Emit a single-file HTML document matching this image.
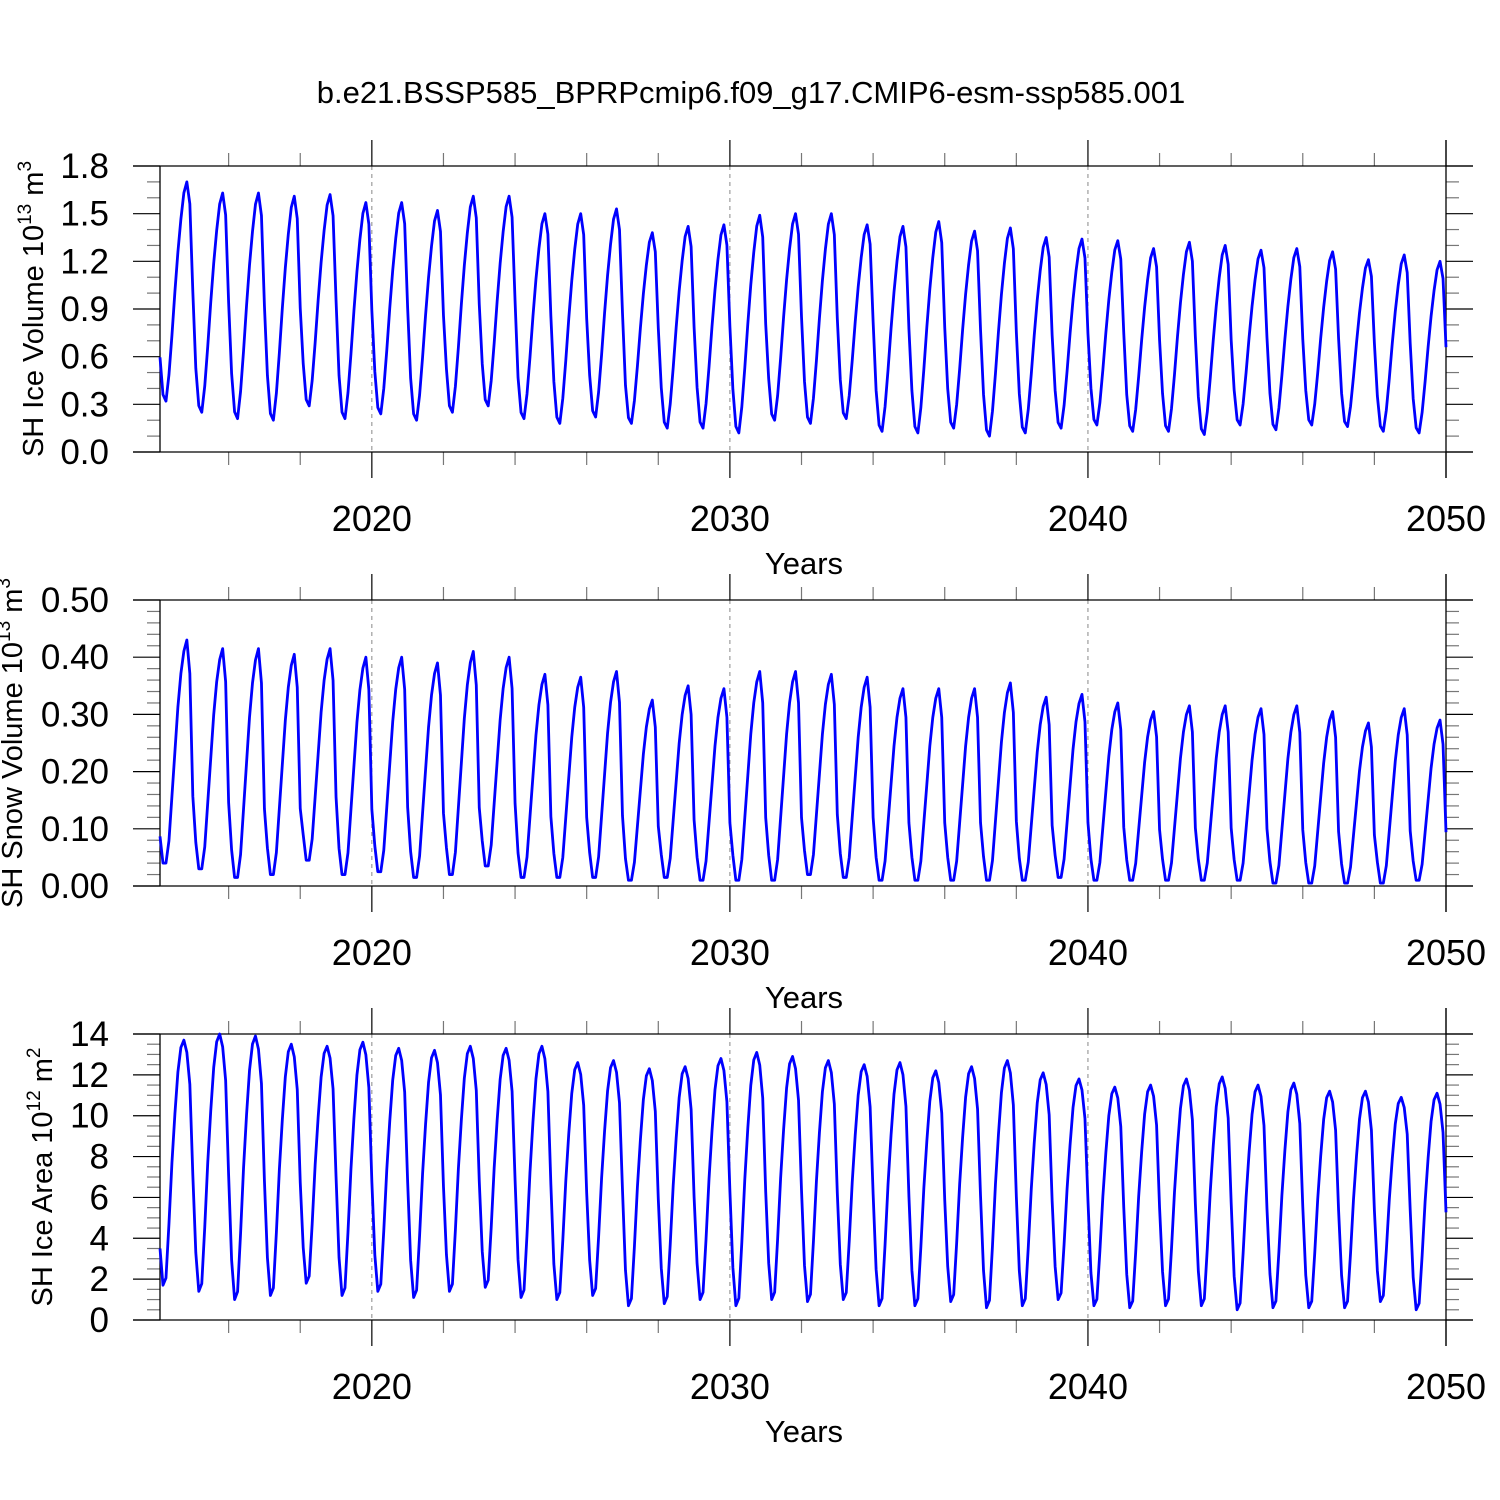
<!DOCTYPE html>
<html><head><meta charset="utf-8"><style>
html,body{margin:0;padding:0;background:#fff}
svg{display:block}
text{font-family:"Liberation Sans",sans-serif;fill:#000}
</style></head><body>
<svg id="chart" width="1500" height="1500" viewBox="0 0 1500 1500" xmlns="http://www.w3.org/2000/svg">
<text x="751" y="103" font-size="31" text-anchor="middle">b.e21.BSSP585_BPRPcmip6.f09_g17.CMIP6-esm-ssp585.001</text>
</svg>
<script>
// Yearly Oct/Sep peaks and Feb/Mar troughs, 2014..2049
const years = [2014,2015,2016,2017,2018,2019,2020,2021,2022,2023,2024,2025,2026,2027,2028,2029,2030,2031,2032,2033,2034,2035,2036,2037,2038,2039,2040,2041,2042,2043,2044,2045,2046,2047,2048,2049];
const xTickLabels = ["2020","2030","2040","2050"];
const volPeak = [1.70,1.63,1.63,1.61,1.62,1.57,1.57,1.52,1.61,1.61,1.50,1.50,1.53,1.38,1.42,1.43,1.49,1.50,1.50,1.43,1.42,1.45,1.39,1.41,1.35,1.34,1.33,1.28,1.32,1.30,1.27,1.28,1.26,1.21,1.24,1.20];
const volTrough = [0.32,0.25,0.21,0.20,0.29,0.21,0.24,0.20,0.25,0.29,0.21,0.18,0.22,0.18,0.15,0.15,0.12,0.20,0.18,0.21,0.13,0.12,0.15,0.10,0.12,0.15,0.17,0.13,0.13,0.11,0.17,0.14,0.17,0.16,0.13,0.12];
const volShape = [0.2,0.03,0,0.12,0.3,0.5,0.68,0.83,0.95,1,0.9,0.5];
const snowPeak = [0.43,0.415,0.415,0.405,0.415,0.40,0.40,0.39,0.41,0.40,0.37,0.365,0.375,0.325,0.35,0.345,0.375,0.375,0.37,0.365,0.345,0.345,0.345,0.355,0.33,0.335,0.32,0.305,0.315,0.315,0.31,0.315,0.305,0.285,0.31,0.29];
const snowTrough = [0.04,0.03,0.015,0.02,0.045,0.02,0.025,0.015,0.02,0.035,0.015,0.015,0.015,0.01,0.015,0.01,0.01,0.01,0.02,0.015,0.01,0.01,0.01,0.01,0.01,0.015,0.01,0.01,0.01,0.01,0.01,0.005,0.005,0.005,0.005,0.01];
const snowShape = [0.12,0,0,0.1,0.3,0.5,0.7,0.85,0.95,1,0.85,0.3];
const areaPeak = [13.7,14.0,13.9,13.5,13.4,13.6,13.3,13.2,13.4,13.3,13.4,12.6,12.7,12.3,12.4,12.8,13.1,12.9,12.7,12.5,12.6,12.2,12.4,12.7,12.1,11.8,11.4,11.5,11.8,11.9,11.5,11.6,11.2,11.2,10.9,11.1];
const areaTrough = [1.7,1.4,1.0,1.2,1.8,1.2,1.4,1.1,1.4,1.6,1.1,1.0,1.2,0.7,0.8,1.0,0.7,1.0,0.9,1.0,0.7,0.7,0.9,0.6,0.7,1.0,0.7,0.6,0.7,0.7,0.5,0.6,0.6,0.6,0.9,0.5];
const areaShape = [0.15,0,0.03,0.25,0.5,0.7,0.87,0.97,1,0.95,0.82,0.45];

const NS="http://www.w3.org/2000/svg";
const svg=document.getElementById('chart');
function mk(tag,attrs,parent){const e=document.createElementNS(NS,tag);for(const k in attrs)e.setAttribute(k,attrs[k]);(parent||svg).appendChild(e);return e;}
const X0=160,X1=1446,T0=2014+1/12,T1=2050;
function xs(t){return X0+(t-T0)/(T1-T0)*(X1-X0);}

const panels=[
 {name:'ice-volume',peak:volPeak,trough:volTrough,shape:volShape,max:1.8,major:0.3,minor:0.1,dec:1,tx:43,title:['SH Ice Volume 10','13',' m','3']},
 {name:'snow-volume',peak:snowPeak,trough:snowTrough,shape:snowShape,max:0.5,major:0.1,minor:0.02,dec:2,tx:22,title:['SH Snow Volume 10','13',' m','3']},
 {name:'ice-area',peak:areaPeak,trough:areaTrough,shape:areaShape,max:14,major:2,minor:0.5,dec:0,tx:52,title:['SH Ice Area 10','12',' m','2']}
];
panels.forEach((p,pi)=>{
  const top=166+pi*434,bot=452+pi*434;
  const ys=v=>bot-(v/p.max)*(bot-top);
  const g=mk('g',{});
  
  
  [2020,2030,2040].forEach(y=>{
    const l=mk('line',{x1:xs(y),x2:xs(y),y1:top,y2:bot,stroke:'#888','stroke-width':1,'stroke-dasharray':'4,4'},g);
    
    
  });
  const nMinor=Math.round(p.max/p.minor);
  for(let i=0;i<=nMinor;i++){
    const v=i*p.minor,y=ys(v);
    const isMaj=Math.abs(v/p.major-Math.round(v/p.major))<1e-6;
    const L=isMaj?27:13;
    mk('line',{x1:X0-L,x2:X0,y1:y,y2:y,stroke:isMaj?'#000':'#777','stroke-width':1.2},g);
    mk('line',{x1:X1,x2:X1+L,y1:y,y2:y,stroke:isMaj?'#000':'#777','stroke-width':1.2},g);
    if(isMaj){
      const t=mk('text',{x:109,y:y+12,'font-size':35,'text-anchor':'end'},g);
      
      
      t.textContent=v.toFixed(p.dec);
    }
  }
  for(let yr=2016;yr<=2050;yr+=2){
    const x=xs(yr),maj=yr%10===0;
    if(maj){
      mk('line',{x1:x,x2:x,y1:top-26,y2:top,stroke:'#000','stroke-width':1.2},g);
      mk('line',{x1:x,x2:x,y1:bot,y2:bot+26,stroke:'#000','stroke-width':1.2},g);
      const t=mk('text',{x:x,y:bot+79,'font-size':36,'text-anchor':'middle'},g);
      
      
      t.textContent=String(yr);
    } else {
      mk('line',{x1:x,x2:x,y1:top-13,y2:top,stroke:'#777','stroke-width':1.2},g);
      mk('line',{x1:x,x2:x,y1:bot,y2:bot+13,stroke:'#777','stroke-width':1.2},g);
    }
  }
  mk('line',{x1:X0-27,x2:X1+27,y1:top,y2:top,stroke:'#000','stroke-width':1.3},g);
  mk('line',{x1:X0-27,x2:X1+27,y1:bot,y2:bot,stroke:'#000','stroke-width':1.3},g);
  mk('line',{x1:X0,x2:X0,y1:top,y2:bot,stroke:'#000','stroke-width':1.3},g);
  mk('line',{x1:X1,x2:X1,y1:top-26,y2:bot+26,stroke:'#000','stroke-width':1.3},g);
  const pts=[];
  years.forEach((yr,yi)=>{
    for(let m=0;m<12;m++){
      const v=p.trough[yi]+p.shape[m]*(p.peak[yi]-p.trough[yi]);
      pts.push(xs(yr+(m+1)/12).toFixed(2)+','+ys(v).toFixed(2));
    }
  });
  const line=mk('polyline',{points:pts.join(' '),fill:'none',stroke:'#0000ff','stroke-width':2.8,'stroke-linejoin':'round'},g);
  
  
  const xt=mk('text',{x:804,y:bot+122,'font-size':31,'text-anchor':'middle'},g);
  
  
  xt.textContent='Years';
  const cy=(top+bot)/2;
  const yt=mk('text',{x:0,y:0,'font-size':29,'text-anchor':'middle',transform:'translate('+p.tx+','+cy+') rotate(-90)'},g);
  
  
  const s1=mk('tspan',{},yt);s1.textContent=p.title[0];
  const s2=mk('tspan',{dy:-12,'font-size':19},yt);s2.textContent=p.title[1];
  const s3=mk('tspan',{dy:12},yt);s3.textContent=p.title[2];
  const s4=mk('tspan',{dy:-12,'font-size':19},yt);s4.textContent=p.title[3];
});
</script>
</body></html>
